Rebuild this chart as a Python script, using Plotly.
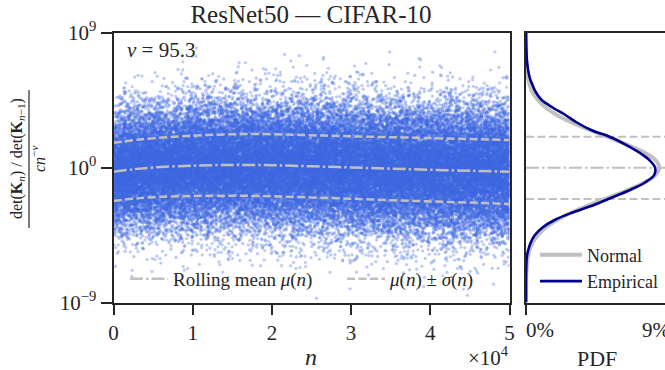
import numpy as np
import plotly.graph_objects as go

# ---------------- data ----------------
# rolling statistics of log10(ratio), sampled along n
roll_n = [0, 2500, 5000, 10000, 15000, 20000, 25000, 30000, 35000, 40000, 45000, 50000]
roll_mean = [-0.28, -0.12, 0.0, 0.12, 0.17, 0.15, 0.08, 0.0, -0.08, -0.15, -0.22, -0.28]
roll_upper = [1.65, 1.82, 1.95, 2.12, 2.22, 2.22, 2.15, 2.08, 2.02, 1.96, 1.90, 1.83]
roll_lower = [-2.23, -2.08, -1.98, -1.90, -1.88, -1.92, -2.00, -2.08, -2.18, -2.26, -2.34, -2.43]

# PDF panel (log10 level -> percent)
pdf_levels = [9, 8, 7, 6, 5.5, 5, 4.5, 4, 3.5, 3, 2.5, 2, 1.5, 1, 0.5, 0,
              -0.5, -1, -1.5, -2, -2.5, -3, -3.5, -4, -4.5, -5, -5.5, -6, -7, -8, -9]
pdf_empirical = [0, 0.02, 0.07, 0.23, 0.41, 0.63, 0.99, 1.67, 2.48, 3.20, 4.10, 5.37, 6.31, 7.13, 7.76, 8.12,
                 8.07, 7.49, 6.54, 5.41, 4.28, 2.93, 1.80, 1.04, 0.56, 0.30, 0.14, 0.05, 0.01, 0, 0]
pdf_normal = [0, 0.005, 0.024, 0.12, 0.23, 0.42, 0.76, 1.24, 1.95, 2.88, 4.00, 5.21, 6.41, 7.45, 8.15, 8.39,
              8.15, 7.45, 6.41, 5.21, 4.00, 2.88, 1.95, 1.24, 0.76, 0.42, 0.23, 0.12, 0.024, 0.005, 0]

overall_mean = -0.01
overall_upper = 2.05
overall_lower = -2.10

n_points = 50000
nu_value = 95.3

x_tickvals = [0, 10000, 20000, 30000, 40000, 50000]
x_ticktext = ["0", "1", "2", "3", "4", "5"]
y_tickvals = [1e-9, 1, 1e9]
y_ticktext = ["10<sup>−9</sup>", "10<sup>0</sup>", "10<sup>9</sup>"]
pdf_tickvals = [0, 9]
pdf_ticktext = ["0%", "9%"]

# ---------------- scatter cloud (samples around the rolling stats) ----------------
n = np.arange(n_points)
mu = np.interp(n, roll_n, roll_mean)
sd = (np.interp(n, roll_n, roll_upper) - np.interp(n, roll_n, roll_lower)) / 2.0
rng = np.random.default_rng(7)
z = rng.standard_normal(n_points)
cloud_y = 10 ** (mu + sd * z)

W, H = 665, 370
FONT = "Liberation Serif"
INK = "#262626"
GREY = "#c0c0c0"

def fx(p):
    return p / W

def fy(p):
    return 1 - p / H

fig = go.Figure()

fig.add_trace(go.Scatter(
    x=n, y=cloud_y, mode="markers", showlegend=False, hoverinfo="skip",
    marker=dict(size=3.3, color="rgba(65,105,225,0.34)", line=dict(width=0)),
    xaxis="x", yaxis="y"))

rn = np.array(roll_n)
fig.add_trace(go.Scatter(
    x=rn, y=10 ** np.array(roll_mean), mode="lines", name="Rolling mean <i>μ</i>(<i>n</i>)",
    line=dict(color=GREY, width=2.5, dash="13px,3px,2.5px,3px", shape="spline"),
    legend="legend", xaxis="x", yaxis="y"))
fig.add_trace(go.Scatter(
    x=rn, y=10 ** np.array(roll_upper), mode="lines", name="<i>μ</i>(<i>n</i>) ± <i>σ</i>(<i>n</i>)",
    line=dict(color=GREY, width=2.5, dash="8px,3.5px", shape="spline"),
    legend="legend", legendgroup="sig", xaxis="x", yaxis="y"))
fig.add_trace(go.Scatter(
    x=rn, y=10 ** np.array(roll_lower), mode="lines", showlegend=False,
    line=dict(color=GREY, width=2.5, dash="8px,3.5px", shape="spline"),
    legend="legend", legendgroup="sig", xaxis="x", yaxis="y"))

# right panel reference lines
for val, dsh in [(overall_upper, "8px,3.5px"), (overall_mean, "13px,3px,2.5px,3px"), (overall_lower, "8px,3.5px")]:
    fig.add_trace(go.Scatter(
        x=[0, 12], y=[10 ** val, 10 ** val], mode="lines", showlegend=False, hoverinfo="skip",
        line=dict(color=GREY, width=2, dash=dsh), xaxis="x2", yaxis="y2"))

lv = 10 ** np.array(pdf_levels)
fig.add_trace(go.Scatter(
    x=pdf_normal, y=lv, mode="lines", name="Normal",
    line=dict(color=GREY, width=4, shape="spline"), legend="legend2", xaxis="x2", yaxis="y2"))
fig.add_trace(go.Scatter(
    x=pdf_empirical, y=lv, mode="lines", name="Empirical",
    line=dict(color="#00008b", width=2.6, shape="spline"), legend="legend2", xaxis="x2", yaxis="y2"))

axis_common = dict(showgrid=False, zeroline=False, showline=True, linewidth=2, linecolor=INK,
                   tickcolor=INK, tickwidth=2, automargin=False,
                   tickfont=dict(family=FONT, size=21, color=INK))

# PDF axis: 0 % sits on the left spine, the 9 % tick lies just past the visible edge
pdf_x_left, pdf_x_9 = 526, 669
pdf_range_max = pdf_tickvals[1] * (W - pdf_x_left) / (pdf_x_9 - pdf_x_left)

fig.update_layout(
    width=W, height=H, margin=dict(l=0, r=0, t=0, b=0, autoexpand=False),
    paper_bgcolor="white", plot_bgcolor="white",
    font=dict(family=FONT, color=INK),
    title=dict(text="ResNet50 — CIFAR-10", x=fx(311), y=fy(14), xanchor="center", yanchor="middle",
               automargin=False, font=dict(family=FONT, size=25, color=INK)),
    xaxis=dict(domain=[fx(113.5), fx(509.5)], range=[0, 50000], tickvals=x_tickvals, ticktext=x_ticktext,
               ticks="outside", ticklen=10, mirror=True, anchor="y", **axis_common),
    yaxis=dict(domain=[fy(302.5), fy(32.5)], type="log", range=[-9, 9], tickvals=y_tickvals,
               ticktext=y_ticktext, ticks="outside", ticklen=11, mirror=True, anchor="x", **axis_common),
    xaxis2=dict(domain=[fx(pdf_x_left), 1], range=[0, pdf_range_max], tickvals=pdf_tickvals,
                ticktext=["", ""], ticks="outside", ticklen=10, mirror=True, anchor="y2", **axis_common),
    yaxis2=dict(domain=[fy(302.5), fy(32.5)], type="log", range=[-9, 9], matches="y",
                showticklabels=False, ticks="", mirror=False, anchor="x2", **axis_common),
    legend=dict(orientation="h", x=fx(125), y=fy(279), xanchor="left", yanchor="middle",
                bgcolor="rgba(0,0,0,0)", font=dict(family=FONT, size=19, color=INK),
                entrywidth=164, itemwidth=38),
    legend2=dict(orientation="v", x=fx(535), y=fy(268), xanchor="left", yanchor="middle",
                 bgcolor="rgba(0,0,0,0)", font=dict(family=FONT, size=18, color=INK),
                 itemwidth=42, tracegroupgap=0),
)

annotations = [
    dict(text=f"<i>ν</i> = {nu_value}", x=fx(125), y=fy(50), xanchor="left", yanchor="middle",
         font=dict(size=21)),
    dict(text="<i>n</i>", x=fx(311), y=fy(357), xanchor="center", yanchor="middle", font=dict(size=24)),
    dict(text="×10<sup>4</sup>", x=fx(511), y=fy(356), xanchor="right", yanchor="middle", font=dict(size=21)),
    dict(text="PDF", x=fx(597), y=fy(358), xanchor="center", yanchor="middle", font=dict(size=22)),
    dict(text=pdf_ticktext[0], x=fx(524), y=fy(330), xanchor="left", yanchor="middle", font=dict(size=21)),
    dict(text=pdf_ticktext[1], x=fx(640), y=fy(330), xanchor="left", yanchor="middle", font=dict(size=21)),
    dict(text="det(<b>K</b><sub><i>n</i></sub>) / det(<b>K</b><sub><i>n</i>−1</sub>)", x=fx(17), y=fy(159),
         xanchor="center", yanchor="middle", textangle=-90, font=dict(size=16)),
    dict(text="<i>cn</i><sup>−<i>ν</i></sup>", x=fx(38), y=fy(159), xanchor="center", yanchor="middle",
         textangle=-90, font=dict(size=16)),
]
for a in annotations:
    a.update(xref="paper", yref="paper", showarrow=False)
    a["font"].update(family=FONT, color=INK)
fig.update_layout(annotations=annotations)
fig.add_shape(type="line", xref="paper", yref="paper", x0=fx(29), x1=fx(29), y0=fy(90), y1=fy(228),
              line=dict(color=INK, width=1.2))

fig.write_html("out.html", config={"displayModeBar": False},
               post_script="document.body.style.margin='0';document.body.style.overflow='hidden';")
